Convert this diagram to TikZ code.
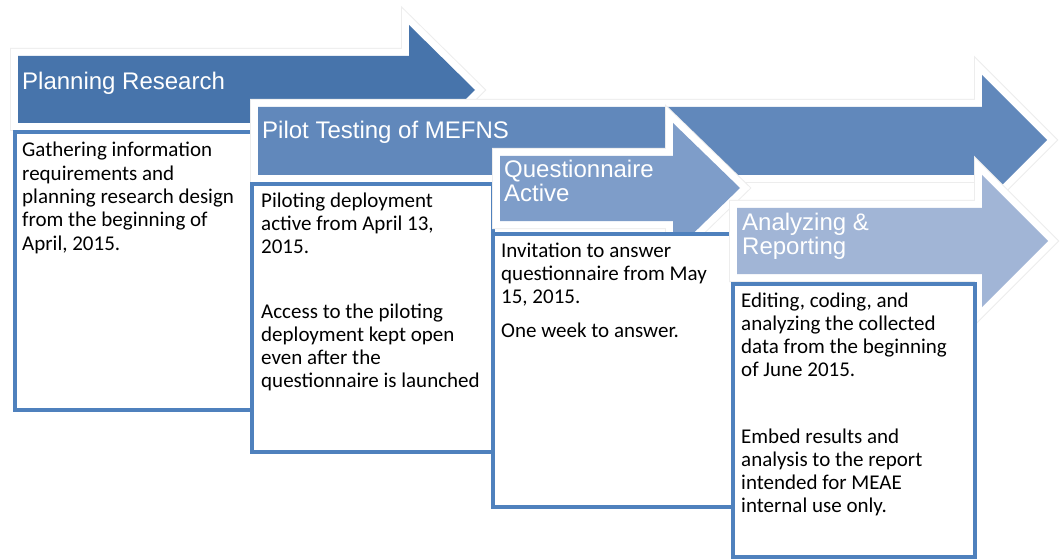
\documentclass[tikz,border=0pt]{standalone}
\usepackage{fontspec}
\setmainfont{Carlito}
\newfontfamily\labelfont{Liberation Sans}

\definecolor{stepA}{RGB}{71,116,171}
\definecolor{stepB}{RGB}{97,136,187}
\definecolor{stepC}{RGB}{126,157,201}
\definecolor{stepD}{RGB}{161,181,214}
\definecolor{boxblue}{RGB}{79,129,189}

\tikzset{
  flowarrow/.style={fill=#1, line join=miter,
    preaction={draw=black!7, line width=16pt, line join=miter},
    preaction={draw=white, line width=14pt, line join=miter}},
  notebox/.style={draw=boxblue, line width=4.5pt, fill=white},
  % multi-line nodes: the base anchor sits on the last line
  steplabel/.style={anchor=base west, inner sep=0pt, text=white, align=left,
    font=\labelfont\fontsize{24}{24.5}\selectfont},
  notetext/.style={anchor=base west, inner sep=0pt, text=black, align=left,
    font=\fontsize{21}{23.3}\selectfont},
}

% block arrow: left x, body top, body bottom, head x, head top, head bottom, tip x, tip y, colour
\newcommand\blockarrow[9]{%
  \path[flowarrow=#9] (#1,#2) -- (#4,#2) -- (#4,#5) -- (#7,#8) -- (#4,#6)
    -- (#4,#3) -- (#1,#3) -- cycle;}

\begin{document}
\begin{tikzpicture}[x=1pt, y=-1pt]
\useasboundingbox[fill=white] (0,0) rectangle (1061,559);

% step 1
\blockarrow{18}{56}{123}{409}{25}{155}{475}{90}{stepA}
\node[steplabel] (lab1) at (22,90) {Planning Research};
\path[notebox] (15,132) rectangle (252,410);
\node[notetext] (txt1) at (22,250.2) {Gathering information\\requirements and\\planning research design\\from the beginning of\\April, 2015.};

% step 2
\blockarrow{258}{107}{175}{982}{75}{205}{1047}{140}{stepB}
\node[steplabel] (lab2) at (262,139) {Pilot Testing of MEFNS};
\path[notebox] (252,184) rectangle (493,452);
\node[notetext] (txt2a) at (261,253.6) {Piloting deployment\\active from April 13,\\2015.};
\node[notetext] (txt2b) at (261,387.9) {Access to the piloting\\deployment kept open\\even after the\\questionnaire is launched};

% step 3
\blockarrow{500}{156}{221}{673}{123}{253}{740}{188}{stepC}
\node[steplabel] (lab3) at (504,201.5) {Questionnaire\\Active};
\path[notebox] (493,234) rectangle (733,507);
\node[notetext] (txt3a) at (501,303.6) {Invitation to answer\\questionnaire from May\\15, 2015.};
\node[notetext] (txt3b) at (501,337) {One week to answer.};

% step 4
\blockarrow{737}{208}{274}{982}{175}{307}{1048}{241}{stepD}
\node[steplabel] (lab4) at (742,254.5) {Analyzing \&\\Reporting};
\path[notebox] (733,284) rectangle (975,557);
\node[notetext] (txt4a) at (741,376.9) {Editing, coding, and\\analyzing the collected\\data from the beginning\\of June 2015.};
\node[notetext] (txt4b) at (741,512.9) {Embed results and\\analysis to the report\\intended for MEAE\\internal use only.};
\end{tikzpicture}
\end{document}
